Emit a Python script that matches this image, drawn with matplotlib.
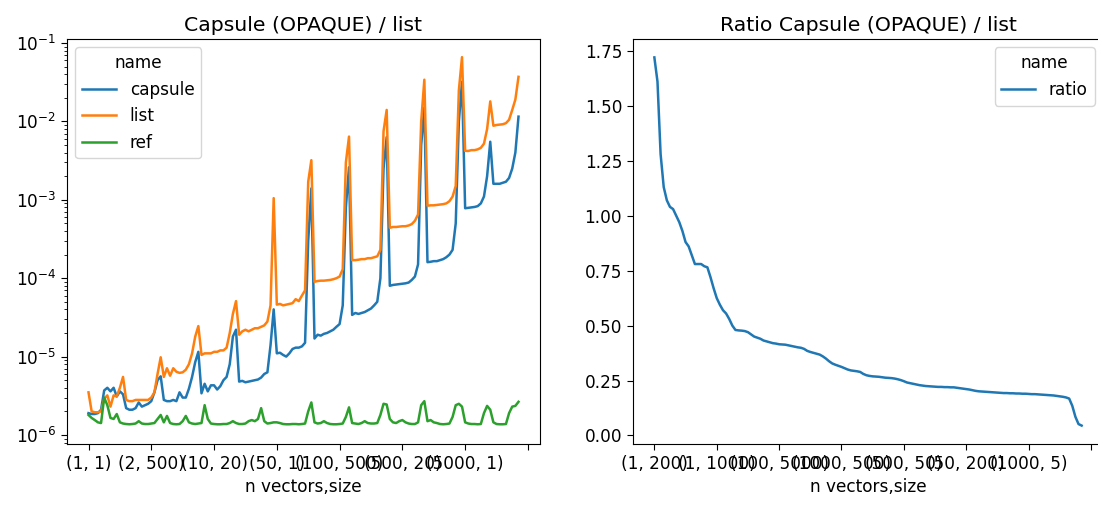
import matplotlib
matplotlib.use("Agg")
import matplotlib.pyplot as plt

# ---- benchmark index: (n vectors, size) ----
n_vectors = [1, 2, 5, 10, 20, 50, 100, 200, 500, 1000, 5000, 10000]
sizes = [1, 2, 5, 10, 20, 50, 100, 200, 500, 1000, 2000, 5000]
max_size = [5000, 5000, 5000, 5000, 5000, 5000, 5000, 5000, 5000, 5000, 500, 500]

index = [(n, s) for n, m in zip(n_vectors, max_size) for s in sizes if s <= m]

# timings (seconds), one row per n vectors block
capsule = [
    1.9e-6, 1.85e-6, 1.85e-6, 1.9e-6, 2.1e-6, 3.7e-6, 4.0e-6, 3.6e-6, 4.0e-6, 3.1e-6, 3.6e-6, 3.3e-6,
    2.2e-6, 2.1e-6, 2.1e-6, 2.2e-6, 2.6e-6, 2.3e-6, 2.4e-6, 2.5e-6, 2.7e-6, 3.5e-6, 5.0e-6, 5.6e-6,
    2.8e-6, 2.7e-6, 2.7e-6, 2.8e-6, 2.7e-6, 3.5e-6, 3.0e-6, 3.0e-6, 3.9e-6, 5.5e-6, 8.5e-6, 1.15e-5,
    3.4e-6, 4.5e-6, 3.6e-6, 4.3e-6, 4.3e-6, 3.8e-6, 4.2e-6, 5.0e-6, 5.5e-6, 8.0e-6, 1.8e-5, 2.2e-5,
    4.8e-6, 4.9e-6, 4.7e-6, 4.8e-6, 4.9e-6, 5.0e-6, 5.1e-6, 5.4e-6, 6.0e-6, 6.3e-6, 1.4e-5, 4.0e-5,
    1.1e-5, 1.12e-5, 1.05e-5, 1.0e-5, 1.1e-5, 1.25e-5, 1.3e-5, 1.3e-5, 1.35e-5, 1.5e-5, 3.0e-4, 1.4e-3,
    1.7e-5, 1.9e-5, 1.85e-5, 1.95e-5, 2.0e-5, 2.1e-5, 2.2e-5, 2.4e-5, 2.6e-5, 4.5e-5, 8.0e-4, 2.6e-3,
    3.4e-5, 3.6e-5, 3.5e-5, 3.6e-5, 3.7e-5, 3.9e-5, 4.1e-5, 4.5e-5, 5.0e-5, 1.0e-4, 2.5e-3, 6.3e-3,
    8.0e-5, 8.2e-5, 8.3e-5, 8.4e-5, 8.5e-5, 8.6e-5, 8.8e-5, 9.5e-5, 1.05e-4, 1.5e-4, 5.0e-3, 1.5e-2,
    1.6e-4, 1.62e-4, 1.65e-4, 1.65e-4, 1.7e-4, 1.75e-4, 1.85e-4, 2.0e-4, 2.3e-4, 5.0e-4, 1.0e-2, 3.2e-2,
    7.8e-4, 7.9e-4, 8.0e-4, 8.1e-4, 8.3e-4, 9.0e-4, 1.1e-3, 2.0e-3, 5.5e-3,
    1.6e-3, 1.6e-3, 1.6e-3, 1.65e-3, 1.7e-3, 1.9e-3, 2.5e-3, 4.0e-3, 1.15e-2,
]

list_times = [
    3.5e-6, 2.0e-6, 1.95e-6, 1.95e-6, 2.0e-6, 2.9e-6, 3.2e-6, 2.3e-6, 3.2e-6, 3.1e-6, 4.0e-6, 5.5e-6,
    2.8e-6, 2.7e-6, 2.7e-6, 2.8e-6, 2.8e-6, 2.8e-6, 2.8e-6, 2.8e-6, 3.0e-6, 3.5e-6, 6.0e-6, 9.8e-6,
    5.5e-6, 7.1e-6, 5.7e-6, 7.1e-6, 6.4e-6, 6.2e-6, 6.3e-6, 6.8e-6, 8.0e-6, 1.1e-5, 1.8e-5, 2.45e-5,
    1.05e-5, 1.1e-5, 1.1e-5, 1.1e-5, 1.15e-5, 1.15e-5, 1.2e-5, 1.2e-5, 1.3e-5, 2.0e-5, 3.5e-5, 5.1e-5,
    1.9e-5, 2.1e-5, 2.2e-5, 2.1e-5, 2.2e-5, 2.3e-5, 2.3e-5, 2.4e-5, 2.5e-5, 2.8e-5, 4.5e-5, 1.05e-3,
    4.6e-5, 4.7e-5, 4.5e-5, 4.6e-5, 4.7e-5, 4.8e-5, 5.4e-5, 5.1e-5, 6.0e-5, 7.0e-5, 1.7e-3, 3.2e-3,
    9.0e-5, 9.2e-5, 9.3e-5, 9.3e-5, 9.4e-5, 9.5e-5, 9.7e-5, 1.0e-4, 1.05e-4, 1.3e-4, 3.0e-3, 6.4e-3,
    1.7e-4, 1.7e-4, 1.72e-4, 1.75e-4, 1.75e-4, 1.8e-4, 1.8e-4, 1.85e-4, 1.9e-4, 2.3e-4, 7.5e-3, 1.4e-2,
    4.4e-4, 4.5e-4, 4.5e-4, 4.55e-4, 4.6e-4, 4.6e-4, 4.7e-4, 4.9e-4, 5.4e-4, 6.5e-4, 1.0e-2, 3.4e-2,
    8.4e-4, 8.5e-4, 8.5e-4, 8.6e-4, 8.7e-4, 8.8e-4, 9.0e-4, 9.6e-4, 1.1e-3, 1.5e-3, 2.5e-2, 6.6e-2,
    4.2e-3, 4.2e-3, 4.3e-3, 4.3e-3, 4.4e-3, 4.6e-3, 5.2e-3, 8.0e-3, 1.8e-2,
    8.8e-3, 9.0e-3, 9.1e-3, 9.2e-3, 9.5e-3, 1.05e-2, 1.4e-2, 1.9e-2, 3.7e-2,
]

ref = [
    1.8e-6, 1.65e-6, 1.55e-6, 1.45e-6, 1.42e-6, 3.0e-6, 2.4e-6, 1.65e-6, 1.6e-6, 1.85e-6, 1.45e-6, 1.4e-6,
    1.38e-6, 1.37e-6, 1.38e-6, 1.4e-6, 1.5e-6, 1.4e-6, 1.38e-6, 1.38e-6, 1.4e-6, 1.42e-6, 1.6e-6, 1.8e-6,
    1.45e-6, 1.75e-6, 1.42e-6, 1.38e-6, 1.37e-6, 1.38e-6, 1.5e-6, 1.75e-6, 1.45e-6, 1.4e-6, 1.38e-6, 1.4e-6,
    1.42e-6, 2.4e-6, 1.6e-6, 1.4e-6, 1.38e-6, 1.37e-6, 1.37e-6, 1.38e-6, 1.38e-6, 1.42e-6, 1.5e-6, 1.42e-6,
    1.38e-6, 1.38e-6, 1.4e-6, 1.5e-6, 1.55e-6, 1.5e-6, 1.6e-6, 2.2e-6, 1.5e-6, 1.4e-6, 1.42e-6, 1.45e-6,
    1.45e-6, 1.42e-6, 1.38e-6, 1.37e-6, 1.37e-6, 1.38e-6, 1.38e-6, 1.37e-6, 1.38e-6, 1.4e-6, 2.0e-6, 2.6e-6,
    1.45e-6, 1.4e-6, 1.42e-6, 1.5e-6, 1.42e-6, 1.38e-6, 1.37e-6, 1.37e-6, 1.38e-6, 1.4e-6, 1.7e-6, 2.25e-6,
    1.42e-6, 1.4e-6, 1.38e-6, 1.42e-6, 1.5e-6, 1.42e-6, 1.4e-6, 1.4e-6, 1.42e-6, 1.8e-6, 2.5e-6, 2.45e-6,
    1.6e-6, 1.45e-6, 1.42e-6, 1.5e-6, 1.55e-6, 1.45e-6, 1.4e-6, 1.38e-6, 1.38e-6, 1.45e-6, 2.4e-6, 2.7e-6,
    1.5e-6, 1.55e-6, 1.45e-6, 1.42e-6, 1.38e-6, 1.37e-6, 1.38e-6, 1.4e-6, 1.7e-6, 2.4e-6, 2.5e-6, 2.3e-6,
    1.45e-6, 1.4e-6, 1.38e-6, 1.38e-6, 1.37e-6, 1.38e-6, 1.9e-6, 2.35e-6, 2.1e-6,
    1.45e-6, 1.38e-6, 1.37e-6, 1.37e-6, 1.38e-6, 1.9e-6, 2.3e-6, 2.35e-6, 2.65e-6,
]

# ratio capsule / list, sorted descending
ratio = [
    1.72, 1.61, 1.28, 1.13, 1.07, 1.04, 1.03, 1.00, 0.97, 0.93, 0.88, 0.86, 0.82, 0.78, 0.78, 0.78,
    0.77, 0.765, 0.72, 0.67, 0.625, 0.595, 0.57, 0.555, 0.53, 0.50, 0.48, 0.478, 0.477, 0.475, 0.47,
    0.46, 0.45, 0.445, 0.44, 0.432, 0.428, 0.424, 0.42, 0.418, 0.415, 0.414, 0.413, 0.41, 0.407,
    0.404, 0.401, 0.399, 0.394, 0.385, 0.38, 0.376, 0.372, 0.368, 0.36, 0.35, 0.338, 0.328, 0.322,
    0.317, 0.312, 0.306, 0.30, 0.296, 0.294, 0.292, 0.289, 0.28, 0.274, 0.271, 0.269, 0.268, 0.267,
    0.265, 0.263, 0.262, 0.261, 0.259, 0.256, 0.252, 0.247, 0.241, 0.238, 0.235, 0.232, 0.229, 0.227,
    0.225, 0.224, 0.223, 0.222, 0.221, 0.221, 0.220, 0.220, 0.219, 0.219, 0.217, 0.215, 0.213, 0.211,
    0.209, 0.206, 0.203, 0.201, 0.200, 0.199, 0.198, 0.197, 0.196, 0.195, 0.194, 0.193, 0.193, 0.192,
    0.192, 0.191, 0.191, 0.190, 0.190, 0.189, 0.188, 0.188, 0.187, 0.186, 0.185, 0.184, 0.183, 0.182,
    0.180, 0.178, 0.176, 0.173, 0.168, 0.135, 0.085, 0.052, 0.045,
]
ratio_tick_labels = ["(1, 200)", "(1, 1000)", "(100, 5000)", "(1000, 500)",
                     "(500, 50)", "(50, 200)", "(1000, 5)", ""]

tick_pos = list(range(0, 141, 20))

# notebook-style figure, everything a bit larger than the defaults
plt.rcParams.update({
    "font.size": 12.2,
    "lines.linewidth": 1.8,
    "xtick.major.size": 4.3,
    "ytick.major.size": 4.3,
    "ytick.minor.size": 2.4,
})

fig = plt.figure(figsize=(10.98, 5.05), dpi=100)
ax1 = fig.add_axes([67 / 1098, 61 / 505, 473 / 1098, 405 / 505])
ax2 = fig.add_axes([633 / 1098, 61 / 505, 470 / 1098, 405 / 505])

# ---- left: timings on log scale ----
x = range(len(index))
ax1.plot(x, capsule, label="capsule")
ax1.plot(x, list_times, label="list")
ax1.plot(x, ref, label="ref")
ax1.set_yscale("log")
ax1.set_ylim(10 ** -6.115, 10 ** -0.949)
ax1.set_xticks(tick_pos)
ax1.set_xticklabels([str(index[t]) if t < len(index) else "" for t in tick_pos])
ax1.set_xlabel("n vectors,size")
ax1.set_title("Capsule (OPAQUE) / list")
ax1.legend(title="name", loc="upper left")

# ---- right: sorted ratio ----
ax2.plot(range(len(ratio)), ratio, label="ratio")
ax2.set_xticks(tick_pos)
ax2.set_xticklabels(ratio_tick_labels)
ax2.set_xlabel("n vectors,size")
ax2.set_title("Ratio Capsule (OPAQUE) / list")
ax2.legend(title="name", loc="upper right")

fig.savefig("out.png", dpi=100)
